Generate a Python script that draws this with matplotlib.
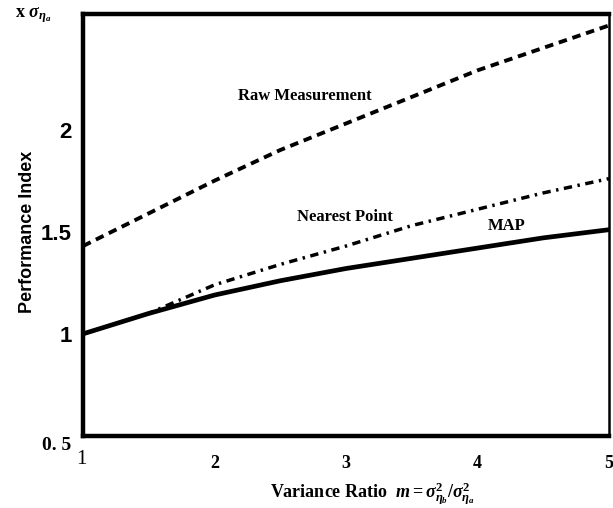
import matplotlib
matplotlib.use("Agg")
import matplotlib.pyplot as plt

plt.rcParams["mathtext.fontset"] = "custom"
plt.rcParams["mathtext.rm"] = "Liberation Serif:bold"
plt.rcParams["mathtext.it"] = "Liberation Serif:italic:bold"
plt.rcParams["mathtext.bf"] = "Liberation Serif:bold"

# ---- data ----
ratio = [1.0, 1.5, 2.0, 2.5, 3.0, 3.5, 4.0, 4.5, 5.0]
raw_measurement = [1.43, 1.59, 1.75, 1.90, 2.03, 2.16, 2.29, 2.40, 2.51]
nearest_point = [1.00, 1.10, 1.24, 1.34, 1.43, 1.53, 1.61, 1.69, 1.76]
map_est = [1.00, 1.10, 1.19, 1.26, 1.32, 1.37, 1.42, 1.47, 1.51]
ytick_vals = [1, 1.5, 2]
ytick_labels = ["1", "1.5", "2"]
xtick_vals = [2, 3, 4, 5]
xtick_labels = ["2", "3", "4", "5"]

fig = plt.figure(figsize=(6.13, 5.08), dpi=100)
ax = fig.add_axes([83 / 613, 1 - 436 / 508, (609 - 83) / 613, (436 - 14) / 508])

ax.plot(ratio, raw_measurement, color="black", lw=2.8, ls=(0, (2.2, 1.5)))
ax.plot(ratio, nearest_point, color="black", lw=2.5, ls=(0, (2.4, 1.6, 0.7, 1.6)))
ax.plot(ratio, map_est, color="black", lw=3.4, ls="-")

ax.set_xlim(1, 5)
ax.set_ylim(0.5, 2.566)

for side in ["left", "bottom", "top"]:
    ax.spines[side].set_linewidth(3.2)
ax.spines["right"].set_linewidth(1.8)

ax.set_yticks(ytick_vals)
ax.set_yticklabels(ytick_labels, fontfamily="Liberation Sans", fontweight="bold", fontsize=16)
ax.set_xticks(xtick_vals)
ax.set_xticklabels(xtick_labels, fontfamily="Liberation Serif", fontweight="bold", fontsize=13)
ax.tick_params(axis="both", length=0)
ax.tick_params(axis="y", pad=8)
ax.tick_params(axis="x", pad=14)

# in-plot labels
lab = dict(fontfamily="Liberation Serif", fontweight="bold", fontsize=12, ha="center", va="center")
ax.text(2.69, 2.166, "Raw Measurement", **lab)
ax.text(2.99, 1.57, "Nearest Point", **lab)
ax.text(4.22, 1.53, "MAP", **lab)

# axis labels
fig.text(28 / 613, 1 - 232 / 508, "Performance Index", rotation=90, ha="center", va="center",
         fontfamily="Liberation Sans", fontweight="bold", fontsize=13)
fig.text(57 / 613, 1 - 445 / 508, "0. 5", ha="center", va="center",
         fontfamily="Liberation Serif", fontweight="bold", fontsize=14)
fig.text(81 / 613, 1 - 460 / 508, "1", ha="center", va="center",
         fontfamily="Liberation Serif", fontsize=15)
fig.text(372 / 613, 1 - 494 / 508,
         r"Variance Ratio  $m=\sigma^2_{\eta_b}/\sigma^2_{\eta_a}$",
         ha="center", va="center", fontfamily="Liberation Serif", fontweight="bold", fontsize=13)
fig.text(15 / 613, 1 - 15 / 508, r"x $\sigma_{\eta_a}$", ha="left", va="center",
         fontfamily="Liberation Serif", fontweight="bold", fontsize=13)

fig.savefig("out.png", dpi=100)
